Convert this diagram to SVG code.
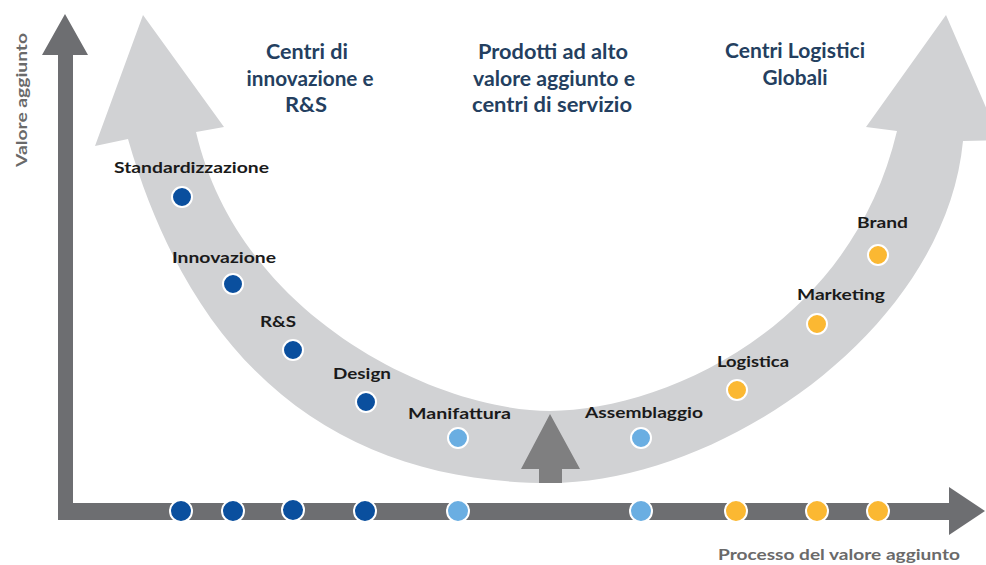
<svg xmlns="http://www.w3.org/2000/svg" width="986" height="565" viewBox="0 0 986 565">
<style>
.band{fill:#d1d2d4}
.axis{fill:#6d6e71}
.mid{fill:#7f7f80}
.h{font-family:Lato,"Open Sans",sans-serif;font-weight:bold;font-size:20px;fill:#243f60;text-anchor:middle}
.l{font-family:Lato,"Open Sans",sans-serif;font-weight:bold;font-size:16px;fill:#1a1a1a}
.ax{font-family:Lato,"Open Sans",sans-serif;font-weight:bold;font-size:15px;fill:#6a6a6a}
.d{stroke:#ffffff;stroke-width:2}
.db{fill:#0a4f9e}
.lb{fill:#6aaee2}
.or{fill:#fbb832}
</style>
<rect width="986" height="565" fill="#ffffff"/>
<g id="connectors">
<path class="band" d="M143,15 L224,127 L196,132 C240,320 440,411 550,411 C660,411 850,330 897,131 L866,127 L946,15 L1000,140 L963,141 C945,330 720,483 550,483 C360,483 200,390 128,139 L95,146 Z"/>
<polygon class="mid" points="550,414 580,469 562,469 562,483 539,483 539,469 521,469"/>
<polygon class="axis" points="58,520 58,55 42,55 65,14 88,55 73,55 73,503 949,503 949,487 985,511 949,535 949,520"/>
</g>
<g id="axis-labels">
<text class="ax" transform="translate(27,100) rotate(-90)" text-anchor="middle" textLength="134" lengthAdjust="spacingAndGlyphs">Valore aggiunto</text>
<text class="ax" x="718" y="560" textLength="242" lengthAdjust="spacingAndGlyphs" font-size="16">Processo del valore aggiunto</text>
</g>
<g id="heading-1">
<text class="h" x="307" y="59" textLength="82" lengthAdjust="spacingAndGlyphs">Centri di</text>
<text class="h" x="310" y="86" textLength="127" lengthAdjust="spacingAndGlyphs">innovazione e</text>
<text class="h" x="306" y="112" textLength="42" lengthAdjust="spacingAndGlyphs">R&amp;S</text>
</g>
<g id="heading-2">
<text class="h" x="553" y="59" textLength="150" lengthAdjust="spacingAndGlyphs">Prodotti ad alto</text>
<text class="h" x="554" y="86" textLength="162" lengthAdjust="spacingAndGlyphs">valore aggiunto e</text>
<text class="h" x="552" y="112" textLength="160" lengthAdjust="spacingAndGlyphs">centri di servizio</text>
</g>
<g id="heading-3">
<text class="h" x="795" y="58" textLength="140" lengthAdjust="spacingAndGlyphs">Centri Logistici</text>
<text class="h" x="795" y="85" textLength="65" lengthAdjust="spacingAndGlyphs">Globali</text>
</g>
<g id="node-standardizzazione">
<text class="l" x="114" y="173" textLength="155" lengthAdjust="spacingAndGlyphs">Standardizzazione</text>
<circle class="d db" cx="182" cy="197" r="10"/>
<circle class="d db" cx="181" cy="511" r="11"/>
</g>
<g id="node-innovazione">
<text class="l" x="172" y="263" textLength="104" lengthAdjust="spacingAndGlyphs">Innovazione</text>
<circle class="d db" cx="233" cy="284" r="10"/>
<circle class="d db" cx="233" cy="511" r="11"/>
</g>
<g id="node-rs">
<text class="l" x="260" y="327" textLength="36" lengthAdjust="spacingAndGlyphs">R&amp;S</text>
<circle class="d db" cx="293" cy="350" r="10"/>
<circle class="d db" cx="293" cy="510" r="11"/>
</g>
<g id="node-design">
<text class="l" x="333" y="379" textLength="58" lengthAdjust="spacingAndGlyphs">Design</text>
<circle class="d db" cx="366" cy="402" r="10"/>
<circle class="d db" cx="365" cy="511" r="11"/>
</g>
<g id="node-manifattura">
<text class="l" x="408" y="419" textLength="103" lengthAdjust="spacingAndGlyphs">Manifattura</text>
<circle class="d lb" cx="458" cy="438" r="10"/>
<circle class="d lb" cx="458" cy="511" r="11"/>
</g>
<g id="node-assemblaggio">
<text class="l" x="585" y="418" textLength="118" lengthAdjust="spacingAndGlyphs">Assemblaggio</text>
<circle class="d lb" cx="641" cy="438" r="10"/>
<circle class="d lb" cx="641" cy="511" r="11"/>
</g>
<g id="node-logistica">
<text class="l" x="717" y="367" textLength="72" lengthAdjust="spacingAndGlyphs">Logistica</text>
<circle class="d or" cx="737" cy="390" r="10"/>
<circle class="d or" cx="736" cy="511" r="11"/>
</g>
<g id="node-marketing">
<text class="l" x="797" y="300" textLength="88" lengthAdjust="spacingAndGlyphs">Marketing</text>
<circle class="d or" cx="817" cy="324" r="10"/>
<circle class="d or" cx="817" cy="511" r="11"/>
</g>
<g id="node-brand">
<text class="l" x="857" y="228" textLength="51" lengthAdjust="spacingAndGlyphs">Brand</text>
<circle class="d or" cx="878" cy="255" r="10"/>
<circle class="d or" cx="878" cy="511" r="11"/>
</g>
</svg>
